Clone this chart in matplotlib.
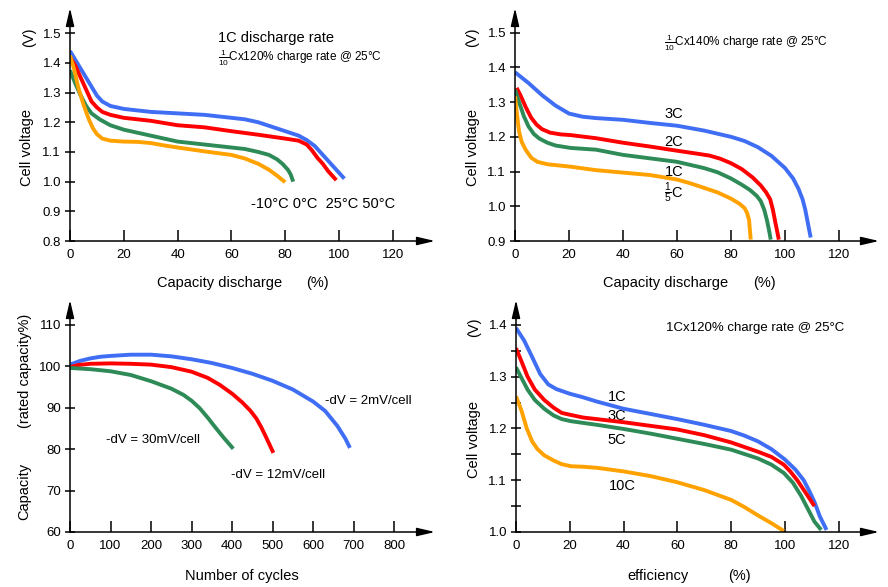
import matplotlib
matplotlib.use("Agg")
import matplotlib.pyplot as plt

plt.rcParams['font.family'] = ['Liberation Sans', 'DejaVu Sans']
plt.rcParams['mathtext.fontset'] = 'custom'
plt.rcParams['mathtext.rm'] = 'Liberation Sans'
plt.rcParams['mathtext.it'] = 'Liberation Sans'

BLUE = '#3f6ef5'
RED = '#ff0000'
GREEN = '#2e8b57'
ORANGE = '#ffa200'

# --- top left: 1C discharge at different temperatures
tl_x_50 = [0, 2, 4, 6, 8, 10, 12, 15, 20, 30, 40, 50, 60, 65, 70, 75, 80, 85, 88, 91, 94, 97, 100, 102]
tl_y_50 = [1.44, 1.41, 1.38, 1.35, 1.32, 1.29, 1.27, 1.255, 1.245, 1.235, 1.23, 1.225, 1.215, 1.21,
           1.2, 1.185, 1.17, 1.155, 1.14, 1.12, 1.09, 1.06, 1.03, 1.01]
tl_x_25 = [0, 2, 4, 6, 8, 10, 12, 15, 20, 30, 40, 50, 60, 70, 80, 85, 88, 90, 92, 94, 96, 99]
tl_y_25 = [1.42, 1.39, 1.35, 1.31, 1.27, 1.25, 1.235, 1.225, 1.215, 1.205, 1.19, 1.183, 1.17, 1.158,
           1.145, 1.138, 1.125, 1.105, 1.08, 1.06, 1.035, 1.005]
tl_x_0 = [0, 2, 4, 6, 8, 11, 15, 20, 25, 30, 40, 50, 60, 65, 70, 74, 77, 79, 81, 82, 83]
tl_y_0 = [1.375, 1.33, 1.29, 1.255, 1.23, 1.21, 1.19, 1.175, 1.165, 1.155, 1.135, 1.125, 1.115, 1.11,
          1.1, 1.09, 1.075, 1.06, 1.04, 1.025, 1.0]
tl_x_m10 = [0, 1.5, 3, 5, 7, 8.5, 10, 12, 15, 20, 25, 30, 35, 40, 50, 60, 65, 70, 74, 77, 80]
tl_y_m10 = [1.425, 1.38, 1.32, 1.26, 1.21, 1.18, 1.16, 1.145, 1.138, 1.135, 1.134, 1.13, 1.122, 1.115,
            1.102, 1.09, 1.078, 1.06, 1.04, 1.02, 0.998]
tl_yticks = [0.8, 0.9, 1.0, 1.1, 1.2, 1.3, 1.4, 1.5]
pct_xticks = [0, 20, 40, 60, 80, 100, 120]

# --- top right: discharge at different rates
tr_x_3c = [0, 5, 10, 15, 20, 25, 30, 40, 50, 60, 70, 80, 85, 90, 95, 100, 103, 105, 106.5, 107.5, 108.5, 109.5]
tr_y_3c = [1.386, 1.355, 1.32, 1.29, 1.267, 1.258, 1.254, 1.249, 1.24, 1.232, 1.218, 1.2, 1.188, 1.17,
           1.145, 1.11, 1.08, 1.05, 1.02, 0.99, 0.95, 0.91]
tr_x_2c = [0.6, 2, 4, 6, 8, 10, 13, 17, 20.6, 30, 40, 50, 60, 67, 72, 76, 80, 84, 88, 91, 93, 94.5, 95.5,
           96.5, 97.3, 97.7]
tr_y_2c = [1.341, 1.32, 1.285, 1.255, 1.235, 1.222, 1.212, 1.207, 1.205, 1.196, 1.183, 1.172, 1.16, 1.152,
           1.146, 1.137, 1.124, 1.107, 1.083, 1.06, 1.04, 1.02, 0.99, 0.95, 0.92, 0.904]
tr_x_1c = [0, 1.5, 3.3, 5, 7, 9, 12, 15, 20.6, 30, 40, 50, 60, 70, 75, 80, 84, 87, 89.5, 91, 92.3, 93.3,
           94.1, 94.7]
tr_y_1c = [1.336, 1.30, 1.259, 1.23, 1.208, 1.195, 1.183, 1.175, 1.168, 1.163, 1.148, 1.138, 1.128, 1.11,
           1.098, 1.08, 1.062, 1.047, 1.03, 1.015, 0.99, 0.96, 0.93, 0.904]
tr_x_5th = [0, 0.8, 1.5, 2.5, 4, 6, 8.3, 12, 20.6, 30, 40, 50, 60, 65, 70, 75, 80, 83, 85, 86, 86.7, 87, 87.3]
tr_y_5th = [1.317, 1.26, 1.215, 1.185, 1.162, 1.14, 1.128, 1.121, 1.114, 1.104, 1.097, 1.09, 1.077, 1.066,
            1.053, 1.04, 1.022, 1.008, 0.995, 0.98, 0.96, 0.93, 0.904]
tr_yticks = [0.9, 1.0, 1.1, 1.2, 1.3, 1.4, 1.5]

# --- bottom left: cycle life
bl_x_2mv = [0, 25, 50, 75, 100, 150, 200, 250, 300, 350, 400, 450, 500, 550, 600, 630, 660, 680, 691]
bl_y_2mv = [100.4, 101.3, 101.9, 102.3, 102.5, 102.8, 102.8, 102.4, 101.7, 100.8, 99.6, 98.2, 96.5, 94.4,
            91.5, 89.2, 85.6, 82.5, 80.3]
bl_x_12mv = [0, 20, 50, 100, 150, 200, 250, 300, 340, 370, 400, 425, 445, 460, 472, 483, 493, 502]
bl_y_12mv = [99.8, 100.3, 100.6, 100.7, 100.6, 100.4, 99.8, 98.7, 97.2, 95.5, 93.4, 91.3, 89.3, 87.4,
             85.3, 83.1, 81.0, 79.1]
bl_x_30mv = [0, 50, 100, 150, 200, 250, 280, 300, 320, 340, 360, 380, 403]
bl_y_30mv = [99.6, 99.3, 98.8, 97.9, 96.4, 94.6, 93.1, 91.7, 89.9, 87.6, 85.1, 82.7, 80.1]
bl_xticks = [0, 100, 200, 300, 400, 500, 600, 700, 800]
bl_yticks = [60, 70, 80, 90, 100, 110]

# --- bottom right: efficiency at different rates
br_x_1c = [0, 3, 6, 9, 12, 15, 20, 25, 30, 40, 50, 60, 70, 80, 85, 90, 95, 100, 104, 107, 109, 111, 113, 115.5]
br_y_1c = [1.394, 1.37, 1.338, 1.305, 1.285, 1.276, 1.267, 1.26, 1.252, 1.238, 1.228, 1.218, 1.207, 1.195,
           1.186, 1.175, 1.16, 1.14, 1.12, 1.1, 1.08, 1.058, 1.03, 1.004]
br_x_3c = [0, 2, 4.3, 7, 10.5, 14, 17, 20.4, 25, 30, 40, 50, 60, 70, 80, 90, 95, 99.6, 102, 104.6, 107.7, 111]
br_y_3c = [1.355, 1.33, 1.30, 1.275, 1.255, 1.24, 1.23, 1.226, 1.221, 1.218, 1.212, 1.205, 1.198, 1.187,
           1.173, 1.155, 1.145, 1.13, 1.117, 1.1, 1.076, 1.05]
br_x_5c = [0, 2, 4.3, 7, 10.5, 14, 17, 20.4, 30, 40, 50, 60, 70, 80, 90, 95, 99.6, 103, 106, 108.5, 111, 113.5]
br_y_5c = [1.318, 1.298, 1.275, 1.255, 1.238, 1.225, 1.218, 1.214, 1.207, 1.199, 1.19, 1.18, 1.17, 1.159,
           1.142, 1.13, 1.114, 1.095, 1.07, 1.045, 1.02, 1.004]
br_x_10c = [0, 2, 4, 6, 8, 10.5, 14, 17, 20.4, 25, 30, 40, 50, 60, 70, 80, 85, 90, 95, 99.6]
br_y_10c = [1.262, 1.235, 1.2, 1.175, 1.16, 1.148, 1.138, 1.131, 1.127, 1.126, 1.124, 1.117, 1.108, 1.096,
            1.081, 1.062, 1.048, 1.032, 1.017, 1.002]
br_yticks = [1.0, 1.1, 1.2, 1.3, 1.4]
br_yminor = [1.05, 1.15, 1.25, 1.35]

W, H = 888, 587
fig = plt.figure(figsize=(W / 100, H / 100), dpi=100)


def px_axes(left, right, top, bottom, xlim, ylim):
    ax = fig.add_axes([left / W, 1 - bottom / H, (right - left) / W, (bottom - top) / H])
    ax.set_xlim(*xlim)
    ax.set_ylim(*ylim)
    for s in ax.spines.values():
        s.set_visible(False)
    ax.patch.set_visible(False)
    arrow = dict(arrowstyle='-|>,head_length=1.2,head_width=0.28', color='black',
                 lw=1.1, shrinkA=0, shrinkB=0, mutation_scale=9)
    ax.annotate('', xy=(1, 0), xytext=(0, 0), xycoords='axes fraction', arrowprops=arrow)
    ax.annotate('', xy=(0, 1), xytext=(0, 0), xycoords='axes fraction', arrowprops=arrow)
    ax.tick_params(axis='x', direction='in', length=8, width=1.1, pad=6, labelsize=9.5)
    ax.tick_params(axis='y', direction='inout', length=7, width=1.1, pad=3, labelsize=9.5)
    ax.tick_params(which='minor', axis='y', direction='inout', length=7, width=1.1)
    return ax


def ftext(x, y, s, **kw):
    fig.text(x / W, 1 - y / H, s, **kw)


def curve(ax, x, y, color):
    ax.plot(x, y, color=color, lw=2.8, solid_capstyle='butt', solid_joinstyle='round')


# top left
ax1 = px_axes(70, 435, 8, 241, (0, 135.7), (0.8, 1.585))
curve(ax1, tl_x_50, tl_y_50, BLUE)
curve(ax1, tl_x_25, tl_y_25, RED)
curve(ax1, tl_x_0, tl_y_0, GREEN)
curve(ax1, tl_x_m10, tl_y_m10, ORANGE)
ax1.set_xticks(pct_xticks)
ax1.set_yticks(tl_yticks)
ax1.set_yticklabels([f'{v:.1f}' for v in tl_yticks])
ftext(218, 38, '1C discharge rate', fontsize=10.5, va='center')
ftext(218, 58, r'$\frac{1}{10}$Cx120% charge rate @ 25°C', fontsize=8.5, va='center')
ftext(251, 204, '-10°C 0°C  25°C 50°C', fontsize=10.5, va='center')
ftext(27, 147, 'Cell voltage', fontsize=10.5, rotation=90, ha='center', va='center')
ftext(29, 37, '(V)', fontsize=10.5, rotation=90, ha='center', va='center')
ftext(220, 283, 'Capacity discharge', fontsize=10.5, ha='center', va='center')
ftext(317, 283, '(%)', fontsize=10.5, ha='center', va='center')

# top right
ax2 = px_axes(515, 879, 8, 241, (0, 134.8), (0.9, 1.571))
curve(ax2, tr_x_3c, tr_y_3c, BLUE)
curve(ax2, tr_x_2c, tr_y_2c, RED)
curve(ax2, tr_x_1c, tr_y_1c, GREEN)
curve(ax2, tr_x_5th, tr_y_5th, ORANGE)
ax2.set_xticks(pct_xticks)
ax2.set_yticks(tr_yticks)
ax2.set_yticklabels([f'{v:.1f}' for v in tr_yticks])
ftext(664, 43, r'$\frac{1}{10}$Cx140% charge rate @ 25°C', fontsize=8.5, va='center')
ftext(674, 114, '3C', fontsize=10.5, ha='center', va='center')
ftext(674, 142, '2C', fontsize=10.5, ha='center', va='center')
ftext(674, 172, '1C', fontsize=10.5, ha='center', va='center')
ftext(674, 193, r'$\frac{1}{5}$C', fontsize=10.5, ha='center', va='center')
ftext(473, 147, 'Cell voltage', fontsize=10.5, rotation=90, ha='center', va='center')
ftext(472, 37, '(V)', fontsize=10.5, rotation=90, ha='center', va='center')
ftext(666, 283, 'Capacity discharge', fontsize=10.5, ha='center', va='center')
ftext(764, 283, '(%)', fontsize=10.5, ha='center', va='center')

# bottom left
ax3 = px_axes(70, 435, 300, 532, (0, 901), (60, 116))
curve(ax3, bl_x_2mv, bl_y_2mv, BLUE)
curve(ax3, bl_x_12mv, bl_y_12mv, RED)
curve(ax3, bl_x_30mv, bl_y_30mv, GREEN)
ax3.set_xticks(bl_xticks)
ax3.set_yticks(bl_yticks)
ftext(325, 401, '-dV = 2mV/cell', fontsize=9.5, va='center')
ftext(106, 440, '-dV = 30mV/cell', fontsize=9.5, va='center')
ftext(231, 475, '-dV = 12mV/cell', fontsize=9.5, va='center')
ftext(25, 371, '(rated capacity%)', fontsize=10.5, rotation=90, ha='center', va='center')
ftext(24, 491, 'Capacity', fontsize=10.5, rotation=90, ha='center', va='center')
ftext(242, 576, 'Number of cycles', fontsize=10.5, ha='center', va='center')

# bottom right
ax4 = px_axes(516, 879, 300, 532, (0, 135), (1.0, 1.448))
# rate labels sit under the curves, as in the original
for lab, px, py in [('1C', 617, 397), ('3C', 617, 416), ('5C', 617, 440), ('10C', 622, 486)]:
    ax4.text(px / W, 1 - py / H, lab, transform=fig.transFigure, fontsize=10.5,
             ha='center', va='center', zorder=1)
curve(ax4, br_x_1c, br_y_1c, BLUE)
curve(ax4, br_x_3c, br_y_3c, RED)
curve(ax4, br_x_5c, br_y_5c, GREEN)
curve(ax4, br_x_10c, br_y_10c, ORANGE)
ax4.set_xticks(pct_xticks)
ax4.set_yticks(br_yticks)
ax4.set_yticks(br_yminor, minor=True)
ax4.set_yticklabels([f'{v:.1f}' for v in br_yticks])
ftext(666, 328, '1Cx120% charge rate @ 25°C', fontsize=9.5, va='center')
ftext(474, 439, 'Cell voltage', fontsize=10.5, rotation=90, ha='center', va='center')
ftext(474, 327, '(V)', fontsize=10.5, rotation=90, ha='center', va='center')
ftext(658, 576, 'efficiency', fontsize=10.5, ha='center', va='center')
ftext(739, 576, '(%)', fontsize=10.5, ha='center', va='center')

fig.savefig('out.png', dpi=100)
